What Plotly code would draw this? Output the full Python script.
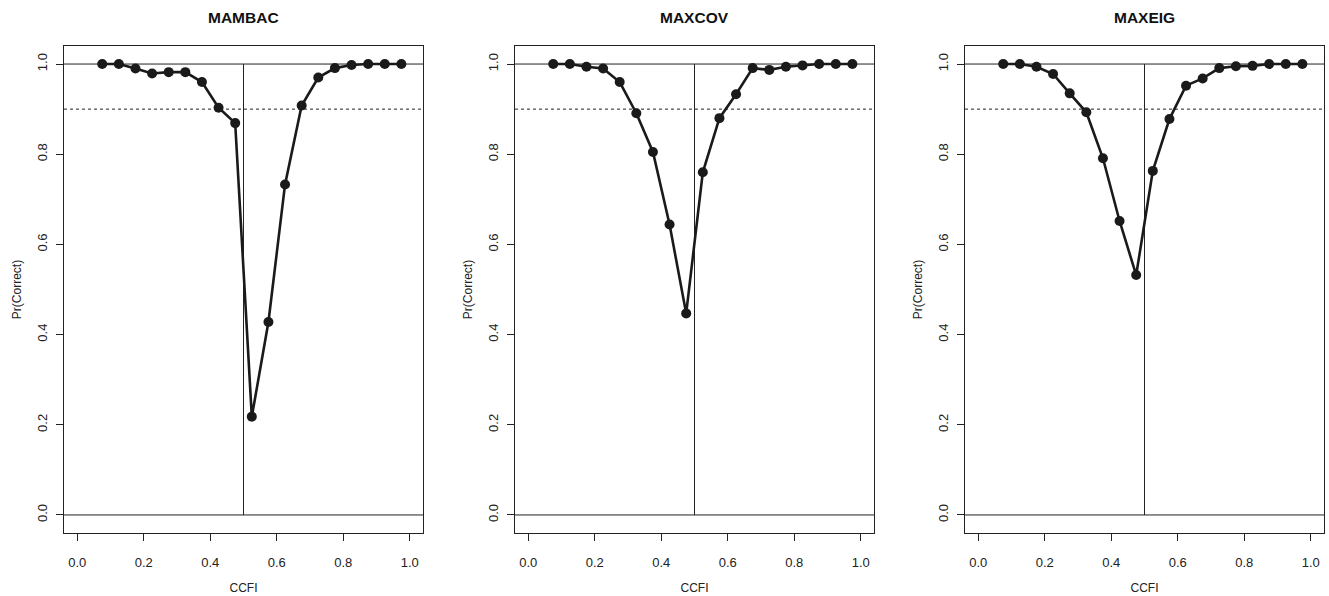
import plotly.graph_objects as go

ccfi = [0.075, 0.125, 0.175, 0.225, 0.275, 0.325, 0.375, 0.425, 0.475, 0.525,
        0.575, 0.625, 0.675, 0.725, 0.775, 0.825, 0.875, 0.925, 0.975]

mambac = [1.0, 1.0, 0.990, 0.979, 0.982, 0.982, 0.960, 0.903, 0.869, 0.218,
          0.428, 0.733, 0.908, 0.970, 0.991, 0.998, 1.0, 1.0, 1.0]
maxcov = [1.0, 1.0, 0.994, 0.990, 0.960, 0.891, 0.805, 0.644, 0.447, 0.760,
          0.880, 0.933, 0.991, 0.987, 0.994, 0.997, 1.0, 1.0, 1.0]
maxeig = [1.0, 1.0, 0.994, 0.978, 0.935, 0.893, 0.791, 0.652, 0.532, 0.763,
          0.878, 0.952, 0.968, 0.991, 0.995, 0.996, 1.0, 1.0, 1.0]

titles = ["MAMBAC", "MAXCOV", "MAXEIG"]
series = [mambac, maxcov, maxeig]
tick_vals = [0.0, 0.2, 0.4, 0.6, 0.8, 1.0]
tick_text = ["0.0", "0.2", "0.4", "0.6", "0.8", "1.0"]

W, H = 1329, 596
panels_px = [(64, 423), (515, 874), (965, 1324)]
top_px, bot_px = 46, 533
ydom = [(H - bot_px) / H, (H - top_px) / H]

FONT = "Liberation Sans, Arial, Helvetica, sans-serif"
fig = go.Figure()
layout = dict(width=W, height=H, margin=dict(l=0, r=0, t=0, b=0),
              paper_bgcolor="white", plot_bgcolor="white", showlegend=False,
              font=dict(family=FONT, size=12, color="#222"))
shapes = []
annotations = []

for i, (name, vals) in enumerate(zip(titles, series)):
    n = "" if i == 0 else str(i + 1)
    xa, ya = "x" + n, "y" + n
    fig.add_trace(go.Scatter(x=ccfi, y=vals, mode="lines+markers", xaxis=xa, yaxis=ya,
                             line=dict(color="#1a1a1a", width=2.6),
                             marker=dict(color="#1a1a1a", size=10)))
    x0, x1 = panels_px[i]
    ax_common = dict(showgrid=False, zeroline=False, showline=True, mirror=True,
                     linecolor="#222", linewidth=1, ticks="outside", ticklen=7,
                     tickcolor="#222", tickvals=tick_vals, ticktext=tick_text,
                     tickfont=dict(size=13, color="#222", family=FONT),
                     range=[-0.04, 1.04])
    layout["xaxis" + n] = dict(ax_common, domain=[x0 / W, x1 / W], anchor=ya,
                               ticklabelstandoff=10,
                               title=dict(text="CCFI", standoff=15, font=dict(size=12)))
    layout["yaxis" + n] = dict(ax_common, domain=ydom, anchor=xa, tickangle=-90,
                               ticklabelstandoff=4,
                               title=dict(text="Pr(Correct)", standoff=10, font=dict(size=12)))
    xref_dom = xa + " domain"
    for yv, dash in [(1.0, "solid"), (0.0, "solid"), (0.9, "dot")]:
        shapes.append(dict(type="line", xref=xref_dom, yref=ya, x0=0, x1=1, y0=yv, y1=yv,
                           line=dict(color="#222", width=1, dash=dash), layer="below"))
    shapes.append(dict(type="line", xref=xa, yref=ya, x0=0.5, x1=0.5, y0=0, y1=1,
                       line=dict(color="#222", width=1), layer="below"))
    annotations.append(dict(text="<b>" + name + "</b>", xref="paper", yref="paper",
                            x=(x0 + x1) / 2 / W, y=(H - 17.5) / H, xanchor="center",
                            yanchor="middle", showarrow=False,
                            font=dict(size=15.5, color="#111", family=FONT)))

layout["shapes"] = shapes
layout["annotations"] = annotations
fig.update_layout(**layout)
fig.write_html("out.html")
